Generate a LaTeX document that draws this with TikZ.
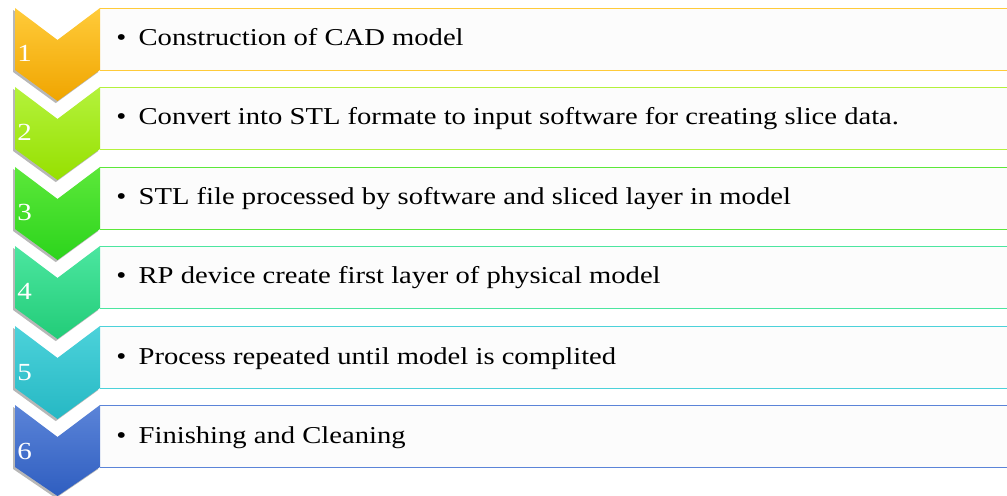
\documentclass[tikz,border=0pt]{standalone}
\usepackage{fontspec}
\setmainfont{Liberation Serif}[FakeStretch=1.18]
\usepackage{tikz}
\usetikzlibrary{shadows}
\definecolor{goldtop}{HTML}{FFCB3A}
\definecolor{goldbot}{HTML}{F0A500}
\definecolor{limetop}{HTML}{B4F23C}
\definecolor{limebot}{HTML}{96E000}
\definecolor{greentop}{HTML}{5CE83A}
\definecolor{greenbot}{HTML}{2CD41C}
\definecolor{seatop}{HTML}{4CE6A0}
\definecolor{seabot}{HTML}{22CC78}
\definecolor{cyantop}{HTML}{4CD2DA}
\definecolor{cyanbot}{HTML}{26B8C4}
\definecolor{bluetop}{HTML}{5B84D8}
\definecolor{bluebot}{HTML}{2F5EC0}
\tikzset{
  chev/.style={drop shadow={shadow xshift=-1pt,shadow yshift=-1.2pt,fill=gray!80,opacity=0.7}},
  stepbox/.style={fill=black!1,draw=none},
  num/.style={anchor=base west,inner sep=0pt,text=white,font=\fontsize{14}{16}\selectfont},
  item/.style={anchor=base west,inner sep=0pt,font=\fontsize{13.8}{16}\selectfont},
}

\begin{document}
\begin{tikzpicture}[x=0.02cm,y=-0.02cm]
      \useasboundingbox (0,0) rectangle (1007,496);
      % step 1
      \fill[stepbox] (100,8) rectangle (1010,70);
      \draw[goldtop] (100,8)--(1010,8) (100,70)--(1010,70);
      \path[chev,top color=goldtop,bottom color=goldbot] (15,8)--(57.5,40)--(100,8)--(100,70)--(57.5,101)--(15,70)--cycle;
      \node[num] (n1) at (17,62) {1};
      \node[item] (t1) at (116,46) {\textbullet\hspace{7pt}Construction of CAD model};
      % step 2
      \fill[stepbox] (100,87) rectangle (1010,149);
      \draw[limetop] (100,87)--(1010,87) (100,149)--(1010,149);
      \path[chev,top color=limetop,bottom color=limebot] (15,87)--(57.5,119)--(100,87)--(100,149)--(57.5,180)--(15,149)--cycle;
      \node[num] (n2) at (17,141) {2};
      \node[item] (t2) at (116,125) {\textbullet\hspace{7pt}Convert into STL formate to input software for creating slice data.};
      % step 3
      \fill[stepbox] (100,167) rectangle (1010,229);
      \draw[greentop] (100,167)--(1010,167) (100,229)--(1010,229);
      \path[chev,top color=greentop,bottom color=greenbot] (15,167)--(57.5,199)--(100,167)--(100,229)--(57.5,260)--(15,229)--cycle;
      \node[num] (n3) at (17,221) {3};
      \node[item] (t3) at (116,205) {\textbullet\hspace{7pt}STL file processed by software and sliced layer in model};
      % step 4
      \fill[stepbox] (100,246) rectangle (1010,308);
      \draw[seatop] (100,246)--(1010,246) (100,308)--(1010,308);
      \path[chev,top color=seatop,bottom color=seabot] (15,246)--(57.5,278)--(100,246)--(100,308)--(57.5,339)--(15,308)--cycle;
      \node[num] (n4) at (17,300) {4};
      \node[item] (t4) at (116,284) {\textbullet\hspace{7pt}RP device create first layer of physical model};
      % step 5
      \fill[stepbox] (100,326) rectangle (1010,388);
      \draw[cyantop] (100,326)--(1010,326) (100,388)--(1010,388);
      \path[chev,top color=cyantop,bottom color=cyanbot] (15,326)--(57.5,358)--(100,326)--(100,388)--(57.5,419)--(15,388)--cycle;
      \node[num] (n5) at (17,380) {5};
      \node[item] (t5) at (116,364) {\textbullet\hspace{7pt}Process repeated until model is complited};
      % step 6
      \fill[stepbox] (100,405) rectangle (1010,467);
      \draw[bluetop] (100,405)--(1010,405) (100,467)--(1010,467);
      \path[chev,top color=bluetop,bottom color=bluebot] (15,405)--(57.5,437)--(100,405)--(100,467)--(57.5,496)--(15,467)--cycle;
      \node[num] (n6) at (17,459) {6};
      \node[item] (t6) at (116,443) {\textbullet\hspace{7pt}Finishing and Cleaning};
\end{tikzpicture}
\end{document}
